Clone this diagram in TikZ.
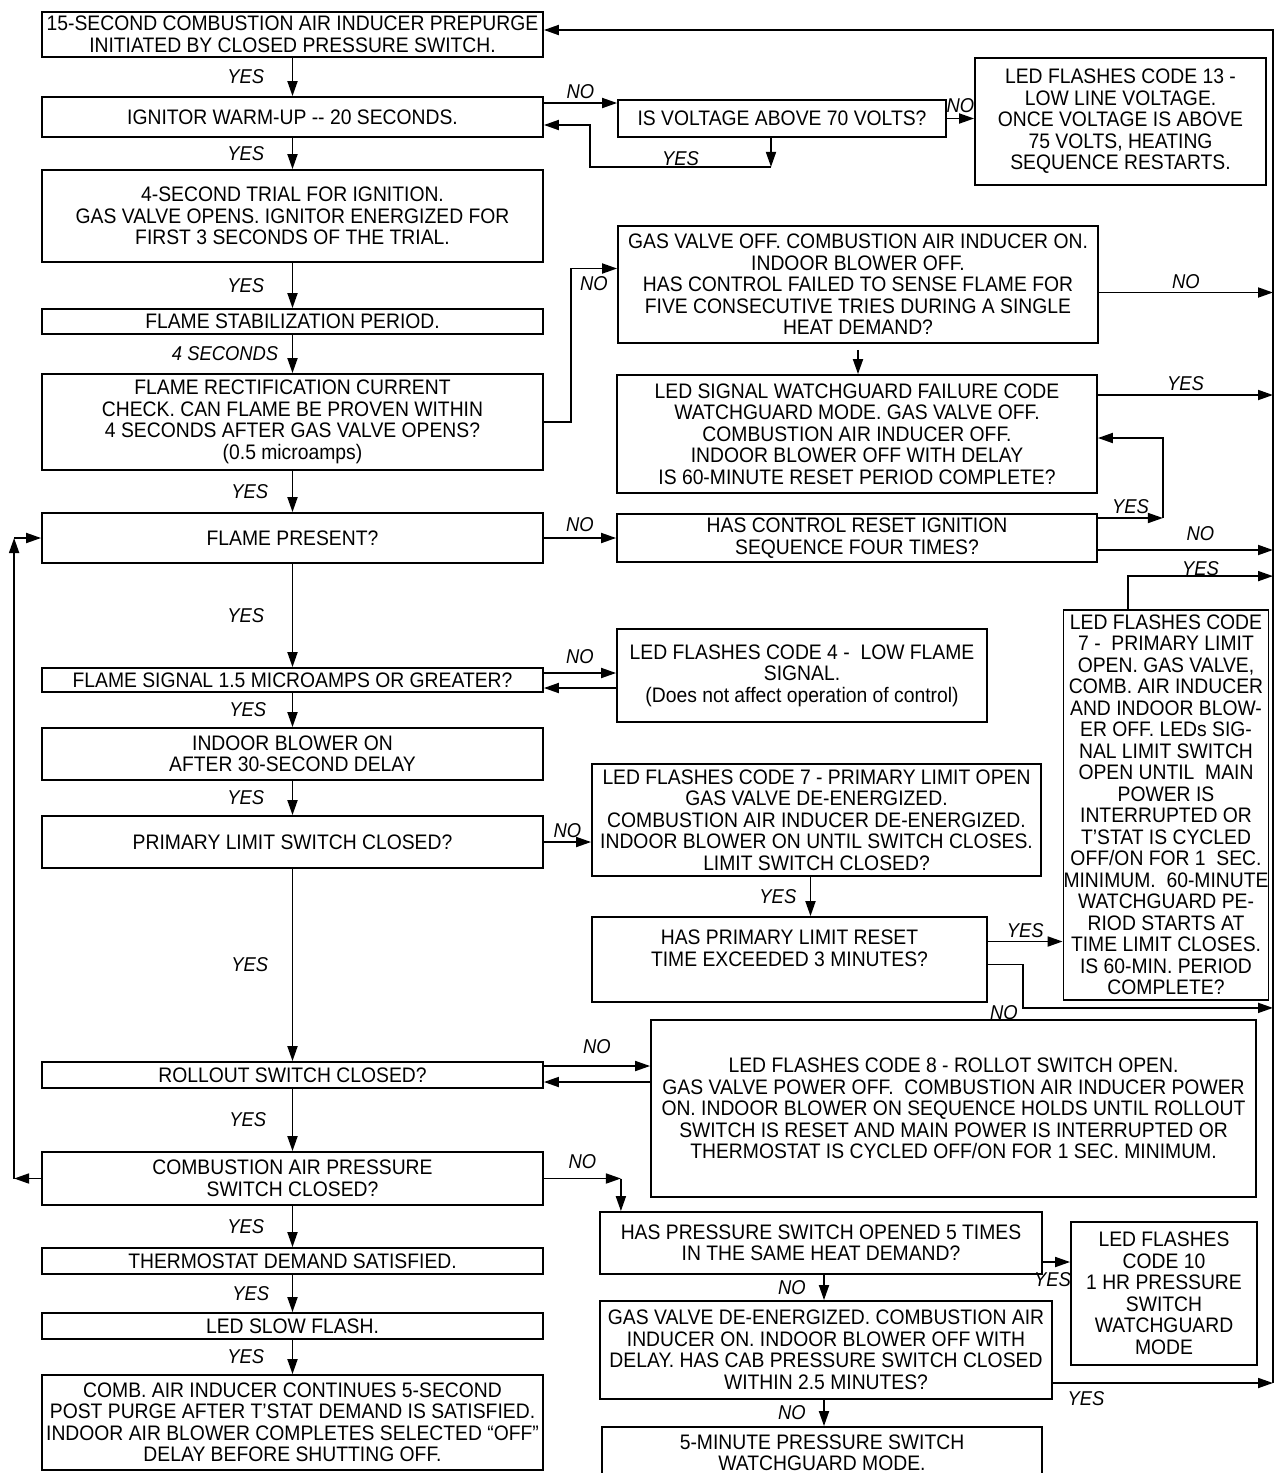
\documentclass[tikz,border=0pt]{standalone}
\usepackage{fontspec}
\setmainfont{Liberation Sans}[FakeStretch=0.92]
\usetikzlibrary{arrows.meta}

\begin{document}
\begin{tikzpicture}[x=1pt, y=-1pt,
	every node/.style={font=\fontsize{21}{21.5}\selectfont},
	box/.style={rectangle, draw=black, line width=1.8pt, align=center, inner sep=1pt},
	lbox/.style={box, minimum width=501pt},
	lbl/.style={font=\fontsize{20}{21}\selectfont\itshape},
	arr/.style={-{Triangle[length=15pt, width=10pt]}, line width=1.8pt}]
				\useasboundingbox (0,0) rectangle (1276,1473);
				\node (n0) at (292.5,34.5) [lbox, minimum height=45pt]
				{15-SECOND COMBUSTION AIR INDUCER PREPURGE\\INITIATED BY CLOSED PRESSURE SWITCH.};
				\node (n1) at (292.5,117) [lbox, minimum height=40pt]
				{IGNITOR WARM-UP -{}- 20 SECONDS.};
				\node (n2) at (292.5,216) [lbox, minimum height=92pt]
				{4-SECOND TRIAL FOR IGNITION.\\GAS VALVE OPENS. IGNITOR ENERGIZED FOR\\FIRST 3 SECONDS OF THE TRIAL.};
				\node (n3) at (292.5,321.5) [lbox, minimum height=25pt]
				{FLAME STABILIZATION PERIOD.};
				\node (n4) at (292.5,422) [lbox, minimum height=96pt]
				{FLAME RECTIFICATION CURRENT\\CHECK. CAN FLAME BE PROVEN WITHIN\\4 SECONDS AFTER GAS VALVE OPENS?\\(0.5 microamps)};
				\node (n5) at (292.5,538) [lbox, minimum height=50pt]
				{FLAME PRESENT?};
				\node (n6) at (292.5,680) [lbox, minimum height=24pt]
				{FLAME SIGNAL 1.5 MICROAMPS OR GREATER?};
				\node (n7) at (292.5,754) [lbox, minimum height=52pt]
				{INDOOR BLOWER ON\\AFTER 30-SECOND DELAY};
				\node (n8) at (292.5,842) [lbox, minimum height=52pt]
				{PRIMARY LIMIT SWITCH CLOSED?};
				\node (n9) at (292.5,1075) [lbox, minimum height=26pt]
				{ROLLOUT SWITCH CLOSED?};
				\node (n10) at (292.5,1178.5) [lbox, minimum height=53pt]
				{COMBUSTION AIR PRESSURE\\SWITCH CLOSED?};
				\node (n11) at (292.5,1261) [lbox, minimum height=26pt]
				{THERMOSTAT DEMAND SATISFIED.};
				\node (n12) at (292.5,1326) [lbox, minimum height=26pt]
				{LED SLOW FLASH.};
				\node (n13) at (292.5,1422.5) [lbox, minimum height=95pt]
				{COMB. AIR INDUCER CONTINUES 5-SECOND\\POST PURGE AFTER T'STAT DEMAND IS SATISFIED.\\INDOOR AIR BLOWER COMPLETES SELECTED “OFF”\\DELAY BEFORE SHUTTING OFF.};
				\node (v1) at (782,118.5) [box, minimum width=328pt, minimum height=37pt]
				{IS VOLTAGE ABOVE 70 VOLTS?};
				\node (v2) at (1120.5,121.5) [box, minimum width=291pt, minimum height=127pt]
				{LED FLASHES CODE 13 -\\LOW LINE VOLTAGE.\\ONCE VOLTAGE IS ABOVE\\75 VOLTS, HEATING\\SEQUENCE RESTARTS.};
				\node (f1) at (858,284.5) [box, minimum width=480pt, minimum height=117pt]
				{GAS VALVE OFF. COMBUSTION AIR INDUCER ON.\\INDOOR BLOWER OFF.\\HAS CONTROL FAILED TO SENSE FLAME FOR\\FIVE CONSECUTIVE TRIES DURING A SINGLE\\HEAT DEMAND?};
				\node (f2) at (857,434) [box, minimum width=480pt, minimum height=118pt]
				{LED SIGNAL WATCHGUARD FAILURE CODE\\WATCHGUARD MODE. GAS VALVE OFF.\\COMBUSTION AIR INDUCER OFF.\\INDOOR BLOWER OFF WITH DELAY\\IS 60-MINUTE RESET PERIOD COMPLETE?};
				\node (f3) at (857,538) [box, minimum width=480pt, minimum height=48pt]
				{HAS CONTROL RESET IGNITION\\SEQUENCE FOUR TIMES?};
				\node (s1) at (802,675.5) [box, minimum width=370pt, minimum height=93pt]
				{LED FLASHES CODE 4 - \ LOW FLAME\\SIGNAL.\\(Does not affect operation of control)};
				\node (p1) at (816.5,820) [box, minimum width=449pt, minimum height=112pt]
				{LED FLASHES CODE 7 - PRIMARY LIMIT OPEN\\GAS VALVE DE-ENERGIZED.\\COMBUSTION AIR INDUCER DE-ENERGIZED.\\INDOOR BLOWER ON UNTIL SWITCH CLOSES.\\LIMIT SWITCH CLOSED?};
				\node (p2) at (789.5,959.5) [box, minimum width=395pt, minimum height=85pt]
				{HAS PRIMARY LIMIT RESET\\TIME EXCEEDED 3 MINUTES?\\[1pt]};
				\node (p3) at (1166,805) [box, minimum width=204pt, minimum height=390pt, inner sep=0pt]
				{LED FLASHES CODE\\7 - \ PRIMARY LIMIT\\OPEN. GAS VALVE,\\COMB. AIR INDUCER\\AND INDOOR BLOW-\\ER OFF. LEDs SIG-\\NAL LIMIT SWITCH\\OPEN UNTIL \ MAIN\\POWER IS\\INTERRUPTED OR\\T'STAT IS CYCLED\\OFF/ON FOR 1 \ SEC.\\MINIMUM. \ 60-MINUTE\\WATCHGUARD PE-\\RIOD STARTS AT\\TIME LIMIT CLOSES.\\IS 60-MIN. PERIOD\\COMPLETE?};
				\node (r1) at (953.5,1108.5) [box, minimum width=605pt, minimum height=177pt]
				{LED FLASHES CODE 8 - ROLLOT SWITCH OPEN.\\GAS VALVE POWER OFF. \ COMBUSTION AIR INDUCER POWER\\ON. INDOOR BLOWER ON SEQUENCE HOLDS UNTIL ROLLOUT\\SWITCH IS RESET AND MAIN POWER IS INTERRUPTED OR\\THERMOSTAT IS CYCLED OFF/ON FOR 1 SEC. MINIMUM.};
				\node (c1) at (821,1243) [box, minimum width=442pt, minimum height=62pt]
				{HAS PRESSURE SWITCH OPENED 5 TIMES\\IN THE SAME HEAT DEMAND?};
				\node (c2) at (1164,1293.5) [box, minimum width=186pt, minimum height=143pt]
				{LED FLASHES\\CODE 10\\1 HR PRESSURE\\SWITCH\\WATCHGUARD\\MODE};
				\node (c3) at (826,1350) [box, minimum width=452pt, minimum height=98pt]
				{GAS VALVE DE-ENERGIZED. COMBUSTION AIR\\INDUCER ON. INDOOR BLOWER OFF WITH\\DELAY. HAS CAB PRESSURE SWITCH CLOSED\\WITHIN 2.5 MINUTES?};
				\node (c4) at (822,1453) [box, minimum width=440pt, minimum height=52pt]
				{5-MINUTE PRESSURE SWITCH\\WATCHGUARD MODE.};
				\coordinate (bt) at (1273,30);
				\coordinate (bb) at (1273,1383);
				\draw [arr] (n0) -- (n1) node [midway, left=24pt, lbl] {YES};
				\draw [arr] (n1) -- (n2) node [midway, left=24pt, lbl] {YES};
				\draw [arr] (n2) -- (n3) node [midway, left=24pt, lbl] {YES};
				\draw [arr] (n3) -- (n4) node [midway, left=10pt, lbl] {4 SECONDS};
				\draw [arr] (n4) -- (n5) node [midway, left=20pt, lbl] {YES};
				\draw [arr] (n5) -- (n6) node [midway, left=24pt, lbl] {YES};
				\draw [arr] (n6) -- (n7) node [midway, left=22pt, lbl] {YES};
				\draw [arr] (n7) -- (n8) node [midway, left=24pt, lbl] {YES};
				\draw [arr] (n8) -- (n9) node [midway, left=20pt, lbl] {YES};
				\draw [arr] (n9) -- (n10) node [midway, left=22pt, lbl] {YES};
				\draw [arr] (n10) -- (n11) node [midway, left=24pt, lbl] {YES};
				\draw [arr] (n11) -- (n12) node [midway, left=19pt, lbl] {YES};
				\draw [arr] (n12) -- (n13) node [midway, left=24pt, lbl] {YES};
				\draw [arr] (n10.west) -- ++(-27,0) coordinate (lc);
				\draw [arr] (lc) -- (lc |- n5.west) coordinate (lt);
				\draw [arr] (lt) -- (n5.west);
				\draw [arr] ([yshift=14pt]n1.east) -- ([yshift=14pt]n1.east -| v1.west) node [midway, above, lbl] {NO};
				\draw [arr] ([xshift=-11pt]v1.south) -- ++(0,29) coordinate (v1b);
				\draw [arr] (v1b) -- ++(-181,0) node [midway, above=-3pt, lbl] {YES} |- ([yshift=-8pt]n1.east);
				\draw [arr] (v1.east) -- (v1.east -| v2.west) node [midway, above=2pt, lbl] {NO};
				\draw [arr] (bb) -- (bt) -- (bt -| n0.east);
				\draw [arr] (n4.east) -- ++(27,0) |- ([yshift=16pt]f1.west) node [pos=0.75, below=4pt, lbl] {NO};
				\draw [arr] ([yshift=-8pt]f1.east) -- ([yshift=-8pt]f1.east -| bt) node [midway, above, lbl] {NO};
				\draw [arr, shorten <=6pt] (f1.south) -- (f1.south |- f2.north);
				\draw [arr] ([yshift=39pt]f2.east) -- ([yshift=39pt]f2.east -| bt) node [midway, above, lbl] {YES};
				\draw [arr] (n5) -- (f3) node [midway, above=2pt, lbl] {NO};
				\draw [arr] ([yshift=20pt]f3.east) -- ++(65,0) node [midway, above, lbl] {YES} coordinate (f3y);
				\draw [arr] (f3y) |- ([yshift=-4pt]f2.east);
				\draw [arr] ([yshift=-12pt]f3.east) -- ([yshift=-12pt]f3.east -| bt) node [midway, above=5pt, xshift=15pt, lbl] {NO};
				\draw [arr] ([xshift=-38pt]p3.north) |- ([yshift=33pt]p3.north -| bt) node [pos=0.75, above=-4pt, lbl] {YES};
				\draw [arr] ([yshift=7pt]n6.east) -- ([yshift=7pt]n6.east -| s1.west) node [midway, above=5pt, lbl] {NO};
				\draw [arr] ([yshift=-8pt]n6.east -| s1.west) -- ([yshift=-8pt]n6.east);
				\draw [arr] (n8.east) -- (n8.east -| p1.west) node [midway, above, lbl] {NO};
				\draw [arr] ([xshift=-6pt]p1.south) -- ([xshift=-6pt]p1.south |- p2.north) node [midway, left=10pt, lbl] {YES};
				\draw [arr] ([yshift=18pt]p2.east) -- ([yshift=18pt]p2.east -| p3.west) node [midway, above, lbl] {YES};
				\draw [arr] ([yshift=-5pt]p2.east) -- ++(35,0) |- ([yshift=-7pt]p3.south -| bt) node [pos=0.5, left=1pt, yshift=-5pt, lbl] {NO};
				\draw [arr] ([yshift=9pt]n9.east) -- ([yshift=9pt]n9.east -| r1.west) node [midway, above=8pt, lbl] {NO};
				\draw [arr] ([yshift=-7pt]n9.east -| r1.west) -- ([yshift=-7pt]n9.east);
				\draw [arr] (n10.east) -- ++(77,0) node [midway, above=6pt, lbl] {NO} coordinate (c0);
				\draw [arr] (c0) -- (c0 |- c1.north);
				\draw [arr] ([yshift=-19pt]c1.east) -- ([yshift=-19pt]c1.east -| c2.west) node [midway, below=6pt, xshift=-4pt, lbl] {YES};
				\draw [arr] ([xshift=3pt]c1.south) -- ([xshift=3pt]c1.south |- c3.north) node [midway, left=14pt, lbl] {NO};
				\draw [arr] ([yshift=-33pt]c3.east) -- ([yshift=-33pt]c3.east -| bb) node [pos=0.15, below=4pt, lbl] {YES};
				\draw [arr] ([xshift=-2pt]c3.south) -- ([xshift=-2pt]c3.south |- c4.north) node [midway, left=14pt, lbl] {NO};
			\end{tikzpicture}
\end{document}
